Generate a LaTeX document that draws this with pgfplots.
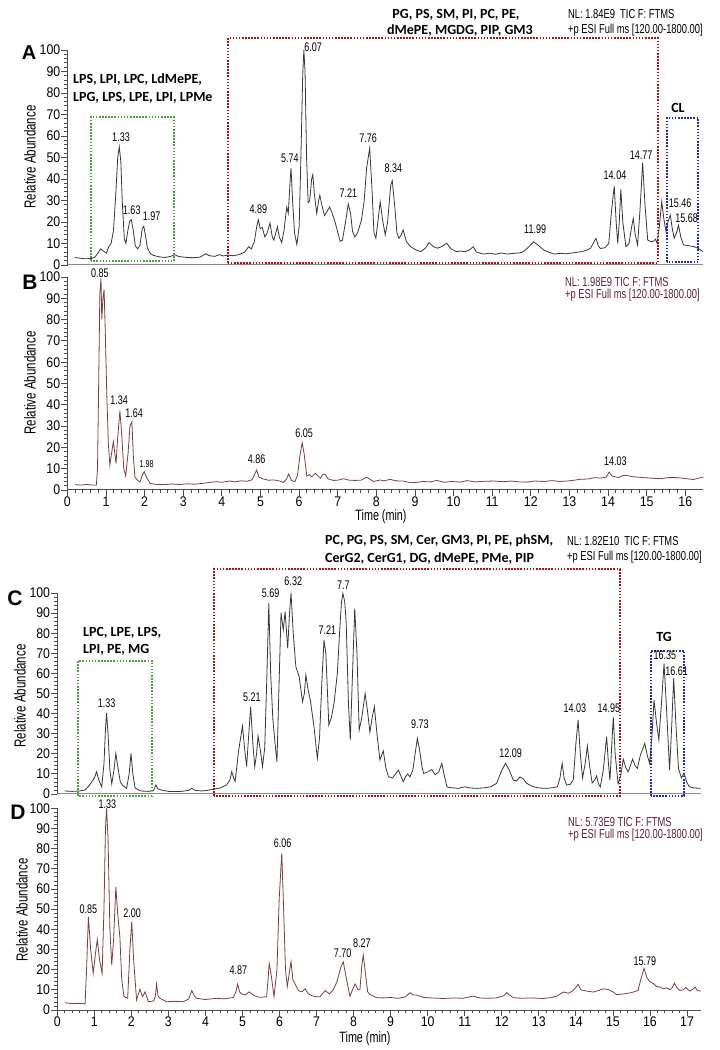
\documentclass[border=0pt]{standalone}
\usepackage{fontspec}
\setmainfont{Liberation Sans}
\newfontfamily\nar[FakeStretch=0.72]{Liberation Sans}
\newfontfamily\tnar[FakeStretch=0.88]{Liberation Sans}
\newfontfamily\carl{Carlito}
\usepackage{pgfplots}
\pgfplotsset{compat=1.18}
\definecolor{traceK}{RGB}{55,55,55}
\definecolor{traceR}{RGB}{122,62,62}
\definecolor{nlR}{RGB}{100,28,60}
\definecolor{boxR}{RGB}{170,18,18}
\definecolor{boxG}{RGB}{70,165,50}
\definecolor{boxB}{RGB}{30,40,185}
\pgfplotsset{chrom/.style={
  scale only axis, axis lines*=left, xmin=0, ymin=0, ymax=100,
  tick align=outside, major tick length=6pt, minor tick length=3pt,
  ytick={0,10,...,100}, minor y tick num=4,
  /pgf/number format/assume math mode=true,
  tick label style={font=\tnar\fontsize{14}{14}\selectfont, text=black},
  yticklabel style={inner sep=1pt},
  xticklabel style={inner sep=0.5pt},
  clip=false,
  axis line style={line width=1pt, color=black!70},
  tick style={line width=0.8pt, color=black!70},
  anchor=south west}}
\tikzset{
  pk/.style={font=\nar\fontsize{12.5}{12.5}\selectfont, inner sep=0pt},
  dotbox/.style={line width=2.2pt, dash pattern=on 1.6pt off 1.5pt},
  lip/.style={font=\carl\bfseries\fontsize{14}{14}\selectfont, inner sep=0pt},
  nl/.style={font=\nar\fontsize{13}{13}\selectfont, inner sep=0pt, anchor=west},
  ylab/.style={font=\nar\fontsize{16}{16}\selectfont, rotate=90, inner sep=0pt},
  big/.style={font=\bfseries, inner sep=0pt}
}
\begin{document}
\begin{tikzpicture}[x=1pt,y=1pt]
\path[use as bounding box] (0,0) rectangle (720,1050);
% ---------------- A ----------------
\begin{axis}[chrom, at={(67.5pt,785pt)}, width=635.5pt, height=215pt, xmax=16.32,
  xtick=\empty, x axis line style={color=black!45}]
\addplot[traceK, line width=0.8pt] coordinates {
(0.18,3.5)(0.3,3.2)(0.45,2.9)(0.6,3.0)(0.7,3.6)(0.78,5.5)(0.85,7.5)(0.92,6.5)(1.0,5.5)(1.06,8.5)(1.12,10)(1.18,16)(1.24,33)(1.29,50)(1.33,55)(1.37,48)(1.41,28)(1.46,12)(1.5,10)(1.55,16)(1.6,20.5)(1.64,21)(1.69,16)(1.74,9)(1.8,7.5)(1.86,9)(1.92,17)(1.96,18)(2.0,14)(2.05,8)(2.12,5.5)(2.2,4.5)(2.35,3.8)(2.5,3.5)(2.65,4)(2.75,4.8)(2.85,4)(3.0,3.6)(3.2,3.4)(3.4,3.6)(3.55,5.2)(3.65,4.3)(3.78,4)(3.9,4.8)(4.0,4.2)(4.12,4.6)(4.25,4.3)(4.4,4.8)(4.55,6)(4.65,8.5)(4.72,7.5)(4.8,11)(4.86,18)(4.9,21)(4.95,17)(5.0,17.5)(5.07,13)(5.13,15)(5.2,19.5)(5.26,13)(5.3,11.5)(5.35,15)(5.39,17.8)(5.44,13)(5.5,10.5)(5.56,16)(5.63,27)(5.67,24)(5.72,40)(5.74,45)(5.78,30)(5.83,15)(5.89,9.5)(5.95,18)(6.0,55)(6.04,88)(6.07,100)(6.1,90)(6.14,50)(6.18,29)(6.22,30)(6.27,40)(6.3,42)(6.34,33)(6.4,24)(6.45,30)(6.48,32.5)(6.53,28)(6.6,23)(6.67,25)(6.73,27)(6.8,24)(6.87,20)(6.93,16)(7.0,11)(7.06,11.5)(7.14,20)(7.21,28.4)(7.27,24)(7.32,15.5)(7.38,13)(7.45,15)(7.55,21)(7.62,30)(7.68,45)(7.76,54.3)(7.82,35)(7.87,15)(7.92,12.4)(7.97,20)(8.03,29.4)(8.1,20)(8.16,14)(8.22,20)(8.3,37)(8.34,39.2)(8.4,28)(8.46,15)(8.51,12.4)(8.57,14)(8.62,16.3)(8.7,11)(8.81,8.5)(8.95,7)(9.07,6.2)(9.2,8)(9.28,10.4)(9.4,8.5)(9.5,7.8)(9.6,8.5)(9.74,10.1)(9.85,7.5)(9.99,6.2)(10.1,6.5)(10.21,6.2)(10.32,7)(10.42,8.5)(10.5,6)(10.68,5.1)(10.85,5.5)(11.0,5)(11.15,5.6)(11.28,5.1)(11.45,5.4)(11.6,5.6)(11.71,6.2)(11.85,8.5)(11.97,10.8)(12.1,9)(12.23,7)(12.35,6)(12.49,5.1)(12.65,5.4)(12.8,5.2)(13.0,5.7)(13.2,6.2)(13.35,7)(13.43,7.7)(13.5,10)(13.57,12.4)(13.63,9)(13.68,7.7)(13.8,8)(13.9,10)(13.97,25)(14.04,36.7)(14.09,20)(14.13,10.1)(14.17,20)(14.21,35.2)(14.26,20)(14.34,8.5)(14.42,10)(14.49,18)(14.53,21.7)(14.58,14)(14.64,9.3)(14.7,25)(14.77,47.6)(14.83,28)(14.9,11.6)(14.96,11)(15.03,10.8)(15.1,12)(15.14,10.1)(15.2,18)(15.26,29.5)(15.31,22)(15.37,15.5)(15.42,20)(15.48,23.3)(15.53,17)(15.58,12.4)(15.64,15)(15.69,18.6)(15.75,13)(15.82,9.3)(15.95,9)(16.09,8.5)(16.2,7.7)(16.32,6.2)};
\draw[dotbox, boxR] (axis cs:4.13,0.9) rectangle (axis cs:15.16,105.6);
\draw[dotbox, boxG] (axis cs:0.60,1.9) rectangle (axis cs:2.73,68.8);
\draw[dotbox, boxB] (axis cs:15.39,1.5) rectangle (axis cs:16.2,68.4);
\node[pk] at (axis cs:1.374,59.4) {1.33};
\node[pk] at (axis cs:1.65,25.6) {1.63};
\node[pk] at (axis cs:2.16,22.5) {1.97};
\node[pk] at (axis cs:4.90,25.9) {4.89};
\node[pk] at (axis cs:5.71,49.6) {5.74};
\node[pk] at (axis cs:6.31,101.5) {6.07};
\node[pk] at (axis cs:7.21,33.3) {7.21};
\node[pk] at (axis cs:7.72,58.9) {7.76};
\node[pk] at (axis cs:8.37,44.9) {8.34};
\node[pk] at (axis cs:12.01,16.6) {11.99};
\node[pk] at (axis cs:14.06,41.9) {14.04};
\node[pk] at (axis cs:14.73,51.2) {14.77};
\node[pk] at (axis cs:15.73,28.7) {15.46};
\node[pk] at (axis cs:15.90,21.7) {15.68};
\end{axis}
% ---------------- B ----------------
\begin{axis}[chrom, at={(67.4pt,560pt)}, width=636pt, height=213pt, xmax=16.47,
  xtick={0,1,...,16}, minor x tick num=4]
\addplot[traceR, line width=0.8pt] coordinates {
(0.2,2.5)(0.35,2.3)(0.5,2.6)(0.65,2.3)(0.75,2.4)(0.78,10)(0.81,50)(0.84,92)(0.87,99.4)(0.89,80)(0.92,90)(0.95,94)(0.98,75)(1.02,45)(1.06,22)(1.1,11.7)(1.15,18)(1.19,22.7)(1.23,17)(1.26,12.5)(1.3,24)(1.36,37.2)(1.41,25)(1.46,10)(1.51,6.6)(1.57,17)(1.62,30)(1.67,32)(1.71,15)(1.75,6)(1.82,4.5)(1.88,3.7)(1.94,7)(1.99,8.6)(2.05,6)(2.14,3.1)(2.3,2.6)(2.5,2.5)(2.7,2.8)(2.9,2.6)(3.1,2.9)(3.3,2.7)(3.5,3.1)(3.7,3.6)(3.85,3.9)(4.0,3.6)(4.2,4.2)(4.35,3.8)(4.5,4.3)(4.65,4.1)(4.78,4.8)(4.84,7)(4.9,9.4)(4.96,6)(5.05,5.3)(5.2,4.6)(5.35,4.7)(5.5,4.2)(5.59,3.5)(5.67,5)(5.73,7.5)(5.8,4.5)(5.89,3.9)(5.96,7)(6.02,16)(6.08,22.2)(6.13,17)(6.2,6.5)(6.27,7.2)(6.33,6.2)(6.42,7.8)(6.48,6.8)(6.55,5.5)(6.62,7.5)(6.68,7.2)(6.75,5.2)(6.89,4.5)(7.0,4.6)(7.15,5.3)(7.3,4.6)(7.45,4.5)(7.6,4.6)(7.75,6)(7.93,4)(8.1,4.7)(8.2,4.3)(8.36,5)(8.5,4.3)(8.7,4.2)(8.88,3.4)(9.05,3.6)(9.2,4)(9.4,3.8)(9.57,4.5)(9.75,3.6)(9.95,4)(10.17,3.7)(10.35,4.4)(10.55,3.8)(10.8,4.1)(11.04,4.2)(11.3,3.9)(11.5,4.2)(11.7,3.8)(11.9,3.7)(12.1,4.2)(12.35,4)(12.55,4.4)(12.76,4)(13.0,4.3)(13.28,5)(13.5,5.2)(13.65,5.8)(13.8,5.6)(13.95,6)(14.03,8.4)(14.1,6.6)(14.27,5.8)(14.4,6.8)(14.49,6.8)(14.65,6.2)(14.8,6)(14.92,5.8)(15.1,5.6)(15.35,5.3)(15.55,5.8)(15.78,5.8)(16.0,5.4)(16.21,4.9)(16.35,5.6)(16.47,6)};
\node[pk] at (axis cs:0.84,102) {0.85};
\node[pk] at (axis cs:1.34,42.3) {1.34};
\node[pk] at (axis cs:1.73,36) {1.64};
\node[pk, font=\nar\fontsize{10}{10}\selectfont] at (axis cs:2.05,12.2) {1.98};
\node[pk] at (axis cs:4.90,14.4) {4.86};
\node[pk] at (axis cs:6.13,26.9) {6.05};
\node[pk] at (axis cs:14.19,13.3) {14.03};
\end{axis}
% ---------------- C ----------------
\begin{axis}[chrom, at={(57.3pt,256pt)}, width=643.4pt, height=201pt, xmax=17.37,
  xtick=\empty, x axis line style={color=black!45}]
\addplot[traceK, line width=0.8pt] coordinates {
(0.2,1.5)(0.4,1.3)(0.6,1.5)(0.75,2)(0.85,4)(0.93,6)(1.0,8)(1.06,11.1)(1.12,7)(1.2,3.5)(1.26,15)(1.3,32)(1.33,40.4)(1.37,30)(1.42,12)(1.47,5)(1.53,12)(1.58,20.2)(1.63,14)(1.7,6)(1.78,4)(1.87,2.8)(1.94,10)(1.99,20.2)(2.04,10)(2.1,3)(2.25,1.5)(2.45,1.3)(2.6,1.6)(2.66,4.5)(2.72,2.5)(2.85,1.8)(3.0,1.3)(3.3,1.2)(3.55,1.8)(3.63,2.8)(3.72,1.8)(3.9,1.5)(4.05,1.8)(4.21,2.4)(4.4,3)(4.57,4.5)(4.66,7)(4.71,11.1)(4.76,8)(4.8,6.2)(4.85,14)(4.89,21)(4.95,28)(5.0,33.8)(5.06,22)(5.11,13.6)(5.17,30)(5.22,43.4)(5.28,25)(5.33,13.6)(5.38,20)(5.42,28.9)(5.48,22)(5.54,13.6)(5.6,23)(5.66,60)(5.71,94.9)(5.76,60)(5.82,36.9)(5.88,25)(5.93,16)(5.98,50)(6.04,90.2)(6.1,81.6)(6.15,90.7)(6.22,72.5)(6.27,90)(6.31,100)(6.37,80)(6.44,63.3)(6.53,58.4)(6.62,45.9)(6.67,50)(6.71,59.2)(6.77,52)(6.83,46.8)(6.93,33.5)(7.02,17.7)(7.08,28)(7.14,55)(7.2,76.6)(7.25,70)(7.33,34.3)(7.4,38)(7.47,45)(7.56,60)(7.62,80)(7.67,95)(7.71,99.8)(7.76,95.7)(7.8,85)(7.86,45)(7.91,26.9)(7.97,60)(8.03,92.4)(8.09,70)(8.15,31.8)(8.22,38)(8.31,50)(8.37,42)(8.44,30.7)(8.5,38)(8.56,43.4)(8.63,30)(8.71,16.9)(8.8,21.5)(8.87,13)(8.94,8.6)(9.05,8)(9.21,11.9)(9.34,6.1)(9.4,8.5)(9.46,10)(9.52,8.5)(9.6,12)(9.66,20)(9.72,27.7)(9.78,22)(9.85,13)(9.89,10.2)(10.0,11)(10.11,12.2)(10.2,9.6)(10.3,11)(10.38,15.3)(10.45,9)(10.52,3.6)(10.6,3.2)(10.83,2.8)(11.0,3.6)(11.15,3)(11.32,2.8)(11.5,3)(11.7,3.6)(11.86,5.3)(11.98,11)(12.1,15.3)(12.2,12)(12.31,6.9)(12.4,6.5)(12.49,8.5)(12.58,7.5)(12.67,5.3)(12.85,3.6)(13.0,3)(13.21,2.8)(13.4,3.2)(13.5,3.6)(13.57,8)(13.63,15.3)(13.68,8)(13.75,4.5)(13.85,4.8)(13.93,7)(14.0,25)(14.06,36.8)(14.12,20)(14.18,8)(14.25,15)(14.31,23.9)(14.37,14)(14.44,5.5)(14.51,7)(14.56,9)(14.61,5)(14.66,3.6)(14.74,12)(14.83,28.5)(14.88,15)(14.92,6.8)(14.97,25)(15.01,38.2)(15.06,20)(15.14,5.1)(15.21,9)(15.28,17.3)(15.35,13)(15.41,11)(15.47,14)(15.53,17.3)(15.6,14)(15.66,12.7)(15.74,19.2)(15.86,25.2)(15.93,19)(15.99,15.3)(16.05,28)(16.11,46.8)(16.18,35)(16.24,26.9)(16.31,45)(16.38,65)(16.44,45)(16.53,11.9)(16.59,35)(16.64,57.5)(16.7,35)(16.77,12.7)(16.85,8)(16.92,10.3)(16.99,6)(17.06,3.6)(17.2,3)(17.37,2.8)};
\draw[dotbox, boxR] (axis cs:4.23,-1) rectangle (axis cs:15.19,111.8);
\draw[dotbox, boxG] (axis cs:0.56,-1) rectangle (axis cs:2.56,66.2);
\draw[dotbox, boxB] (axis cs:16.02,-1) rectangle (axis cs:16.92,71.3);
\node[pk] at (axis cs:1.33,45.1) {1.33};
\node[pk] at (axis cs:5.25,48.4) {5.21};
\node[pk] at (axis cs:5.76,99.8) {5.69};
\node[pk] at (axis cs:6.37,106) {6.32};
\node[pk] at (axis cs:7.29,81.6) {7.21};
\node[pk] at (axis cs:7.72,104) {7.7};
\node[pk] at (axis cs:9.79,34.7) {9.73};
\node[pk] at (axis cs:12.24,20.2) {12.09};
\node[pk] at (axis cs:13.97,42.6) {14.03};
\node[pk] at (axis cs:14.89,42.6) {14.95};
\node[pk] at (axis cs:16.40,69.2) {16.35};
\node[pk] at (axis cs:16.72,61.3) {16.61};
\end{axis}
% ---------------- D ----------------
\begin{axis}[chrom, at={(57.3pt,40pt)}, width=643.4pt, height=201.7pt, xmax=17.37,
  xtick={0,1,...,17}, minor x tick num=4]
\addplot[traceR, line width=0.8pt] coordinates {
(0.21,3.6)(0.4,3.2)(0.6,3.3)(0.75,3)(0.79,20)(0.84,46.3)(0.9,30)(0.97,18.2)(1.03,28)(1.08,35)(1.14,25)(1.21,18.2)(1.26,50)(1.3,90)(1.33,100)(1.37,85)(1.42,40)(1.47,22.3)(1.52,35)(1.58,61)(1.63,48)(1.69,36)(1.74,15)(1.8,6.6)(1.9,5.8)(1.96,30)(2.01,43.8)(2.06,25)(2.14,5)(2.19,8)(2.23,10.3)(2.3,6.6)(2.37,9)(2.46,4.1)(2.6,4.5)(2.65,7)(2.68,12.9)(2.72,7)(2.77,5.8)(2.95,4.1)(3.2,4.3)(3.4,4.1)(3.55,5.5)(3.63,9.6)(3.7,7)(3.76,5.8)(4.0,5.2)(4.3,5.8)(4.5,5.5)(4.75,6.2)(4.82,9)(4.87,12.9)(4.92,9)(4.98,7.9)(5.08,7.5)(5.18,9)(5.28,7.5)(5.38,6.6)(5.5,6.3)(5.65,6.6)(5.69,15)(5.72,23.1)(5.77,18)(5.85,6.6)(5.93,20)(5.99,55)(6.06,77.7)(6.11,50)(6.16,20)(6.21,11.7)(6.26,18)(6.31,24)(6.36,15)(6.42,12.9)(6.51,9.6)(6.6,9)(6.69,10.5)(6.78,8)(6.87,7.1)(7.0,6.5)(7.09,6.6)(7.23,9.6)(7.35,8)(7.45,10)(7.55,14)(7.65,21)(7.72,23.9)(7.8,16)(7.9,6.8)(7.97,10)(8.04,12.9)(8.12,10)(8.17,10)(8.22,22)(8.26,27.3)(8.32,18)(8.38,9)(8.44,7.7)(8.62,6.1)(8.8,6)(9.0,6.2)(9.2,5.8)(9.4,6.5)(9.52,8.6)(9.6,7.5)(9.7,7.4)(9.9,6.2)(10.1,6)(10.42,5.7)(10.7,6)(10.95,5.8)(11.23,6.9)(11.4,6)(11.6,5.8)(11.85,6)(12.05,7)(12.13,8.6)(12.2,7.5)(12.31,6.1)(12.55,5.8)(12.8,6)(13.12,5.7)(13.35,6.2)(13.5,7)(13.66,8.9)(13.8,8.3)(13.93,9.7)(14.06,12.7)(14.14,10)(14.2,9.7)(14.35,9.2)(14.47,8.9)(14.6,9.6)(14.75,10.5)(14.88,10.1)(15.0,9)(15.1,7.6)(15.3,8)(15.5,8.6)(15.68,9.7)(15.75,15)(15.84,20.7)(15.92,16)(16.0,14)(16.1,13)(16.18,11.6)(16.27,11.4)(16.36,10.5)(16.45,11)(16.54,10.1)(16.6,11)(16.66,13.3)(16.73,11)(16.81,9.7)(16.9,10)(16.97,11.3)(17.03,10)(17.08,9.4)(17.15,10.2)(17.22,11.3)(17.28,9.6)(17.37,9.4)};
\node[pk] at (axis cs:0.84,49.9) {0.85};
\node[pk] at (axis cs:1.35,102) {1.33};
\node[pk] at (axis cs:2.02,48.2) {2.00};
\node[pk] at (axis cs:4.89,19.8) {4.87};
\node[pk] at (axis cs:6.08,82.9) {6.06};
\node[pk] at (axis cs:7.70,28.4) {7.70};
\node[pk] at (axis cs:8.22,33) {8.27};
\node[pk] at (axis cs:15.86,24) {15.79};
\end{axis}
% ---------------- texts ----------------
\node[big, font=\bfseries\fontsize{20}{20}\selectfont] at (29,997) {A};
\node[big, font=\bfseries\fontsize{21}{21}\selectfont] at (30,768) {B};
\node[big, font=\bfseries\fontsize{21}{21}\selectfont] at (15,452) {C};
\node[big, font=\bfseries\fontsize{21}{21}\selectfont] at (18,238) {D};
\node[ylab] at (30,893) {Relative Abundance};
\node[ylab] at (30,667) {Relative Abundance};
\node[ylab] at (20,354) {Relative Abundance};
\node[ylab] at (22,140) {Relative Abundance};
\node[font=\nar\fontsize{15}{15}\selectfont, inner sep=0pt] at (381,533) {Time (min)};
\node[font=\nar\fontsize{15}{15}\selectfont, inner sep=0pt] at (365,11) {Time (min)};
% A annotations
\node[lip, anchor=west] at (73,970) {LPS, LPI, LPC, LdMePE,};
\node[lip, anchor=west] at (73,952) {LPG, LPS, LPE, LPI, LPMe};
\node[lip] at (456,1035) {PG, PS, SM, PI, PC, PE,};
\node[lip] at (460,1019) {dMePE, MGDG, PIP, GM3};
\node[lip] at (678,942) {CL};
\node[nl] at (568,1036) {NL: 1.84E9\ \ TIC F: FTMS};
\node[nl] at (568,1020) {+p ESI Full ms [120.00-1800.00]};
% B annotations
\node[nl, text=nlR] at (565,768) {NL: 1.98E9 TIC F: FTMS};
\node[nl, text=nlR] at (565,755) {+p ESI Full ms [120.00-1800.00]};
% C annotations
\node[lip, anchor=west] at (83,417) {LPC, LPE, LPS,};
\node[lip, anchor=west] at (83,400) {LPI, PE, MG};
\node[lip, anchor=west] at (325,509) {PC, PG, PS, SM, Cer, GM3, PI, PE, phSM,};
\node[lip, anchor=west] at (325,491) {CerG2, CerG1, DG, dMePE, PMe, PIP};
\node[lip] at (664,413) {TG};
\node[nl] at (567,509) {NL: 1.82E10\ \ TIC F: FTMS};
\node[nl] at (567,493) {+p ESI Full ms [120.00-1800.00]};
% D annotations
\node[nl, text=nlR] at (568,228) {NL: 5.73E9 TIC F: FTMS};
\node[nl, text=nlR] at (568,215) {+p ESI Full ms [120.00-1800.00]};
\end{tikzpicture}
\end{document}
